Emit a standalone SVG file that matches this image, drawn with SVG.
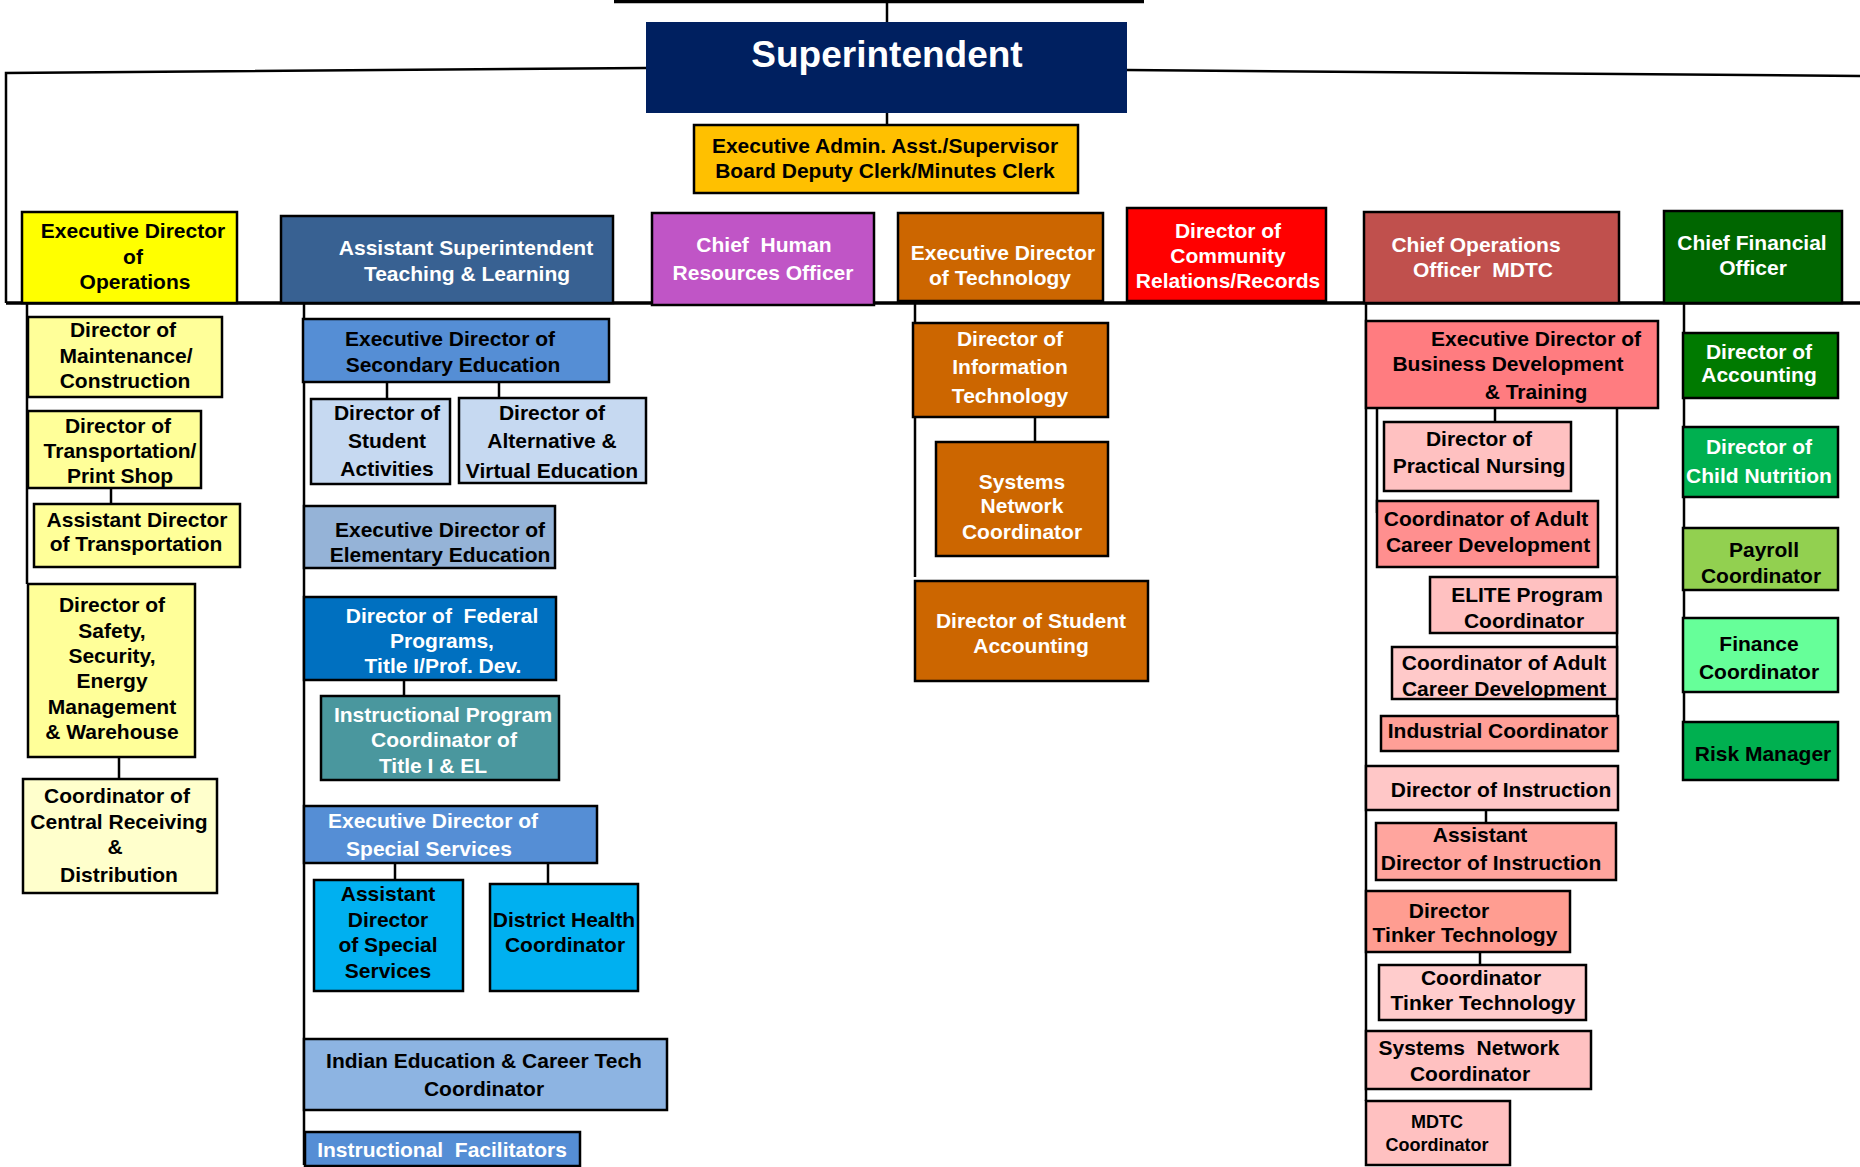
<svg xmlns="http://www.w3.org/2000/svg" width="1860" height="1167" viewBox="0 0 1860 1167">
<style>
.bx{stroke:#000;stroke-width:2.5}
.t{font-family:"Liberation Sans",Arial,sans-serif;font-weight:bold;font-size:21px;text-anchor:middle}
.w{fill:#fff}
.k{fill:#000}
.ln{stroke:#000;stroke-width:2.5;fill:none}
</style>
<rect width="1860" height="1167" fill="#fff"/>
<g id="connectors">
<line class="ln" x1="614" y1="1.5" x2="1144" y2="1.5" style="stroke-width:3.5"/>
<line class="ln" x1="887" y1="3" x2="887" y2="22"/>
<polyline class="ln" points="646,68 6,73 6,303"/>
<line class="ln" x1="1127" y1="70" x2="1860" y2="76"/>
<line class="ln" x1="6" y1="303" x2="1860" y2="303" style="stroke-width:3.5"/>
<line class="ln" x1="887" y1="113" x2="887" y2="125"/>
<line class="ln" x1="27" y1="303" x2="27" y2="584"/>
<line class="ln" x1="111" y1="488" x2="111" y2="504"/>
<line class="ln" x1="119" y1="757" x2="119" y2="779"/>
<line class="ln" x1="304" y1="303" x2="304" y2="1165"/>
<line class="ln" x1="387" y1="382" x2="387" y2="399"/>
<line class="ln" x1="499" y1="382" x2="499" y2="399"/>
<line class="ln" x1="404" y1="680" x2="404" y2="696"/>
<line class="ln" x1="395" y1="863" x2="395" y2="880"/>
<line class="ln" x1="548" y1="863" x2="548" y2="884"/>
<line class="ln" x1="915" y1="303" x2="915" y2="577"/>
<line class="ln" x1="1035" y1="417" x2="1035" y2="442"/>
<line class="ln" x1="1366" y1="303" x2="1366" y2="1101"/>
<line class="ln" x1="1377" y1="408" x2="1377" y2="513"/>
<line class="ln" x1="1617" y1="408" x2="1617" y2="750"/>
<line class="ln" x1="1495" y1="408" x2="1495" y2="422"/>
<line class="ln" x1="1486" y1="810" x2="1486" y2="823"/>
<line class="ln" x1="1480" y1="952" x2="1480" y2="965"/>
<line class="ln" x1="1684" y1="303" x2="1684" y2="722"/>
</g>

<g id="superintendent">
<rect x="646" y="22" width="481" height="91" fill="#002060"/>
<text class="t w" x="887" y="67" style="font-size:37px">Superintendent</text>
</g>
<g id="exec-admin">
<rect class="bx" x="694" y="125" width="384" height="68" fill="#FFC000"/>
<text class="t k" x="885" y="153">Executive Admin. Asst./Supervisor</text>
<text class="t k" x="885" y="178">Board Deputy Clerk/Minutes Clerk</text>
</g>

<g id="exec-ops">
<rect class="bx" x="22" y="212" width="215" height="91" fill="#FFFF00"/>
<text class="t k" x="133" y="238">Executive Director</text>
<text class="t k" x="133" y="264">of</text>
<text class="t k" x="135" y="289">Operations</text>
</g>
<g id="asst-supt">
<rect class="bx" x="281" y="216" width="332" height="87" fill="#386192"/>
<text class="t w" x="466" y="255">Assistant Superintendent</text>
<text class="t w" x="467" y="281">Teaching &amp; Learning</text>
</g>
<g id="chief-hr">
<rect class="bx" x="652" y="213" width="222" height="92" fill="#C055C6"/>
<text class="t w" x="764" y="252" xml:space="preserve">Chief  Human</text>
<text class="t w" x="763" y="280">Resources Officer</text>
</g>
<g id="exec-tech">
<rect class="bx" x="898" y="213" width="205" height="88" fill="#CC6600"/>
<text class="t w" x="1003" y="260">Executive Director</text>
<text class="t w" x="1000" y="285">of Technology</text>
</g>
<g id="dir-community">
<rect class="bx" x="1127" y="208" width="199" height="93" fill="#FF0000"/>
<text class="t w" x="1228" y="238">Director of</text>
<text class="t w" x="1228" y="263">Community</text>
<text class="t w" x="1228" y="288">Relations/Records</text>
</g>
<g id="coo">
<rect class="bx" x="1364" y="212" width="255" height="91" fill="#C0504D"/>
<text class="t w" x="1476" y="252">Chief Operations</text>
<text class="t w" x="1483" y="277" xml:space="preserve">Officer  MDTC</text>
</g>
<g id="cfo">
<rect class="bx" x="1664" y="211" width="178" height="92" fill="#006600"/>
<text class="t w" x="1752" y="250">Chief Financial</text>
<text class="t w" x="1753" y="275">Officer</text>
</g>

<g id="dir-maintenance">
<rect class="bx" x="28" y="317" width="194" height="80" fill="#FFFF99"/>
<text class="t k" x="123" y="337">Director of</text>
<text class="t k" x="126" y="363">Maintenance/</text>
<text class="t k" x="125" y="388">Construction</text>
</g>
<g id="dir-transportation">
<rect class="bx" x="28" y="411" width="173" height="77" fill="#FFFF99"/>
<text class="t k" x="118" y="433">Director of</text>
<text class="t k" x="120" y="458">Transportation/</text>
<text class="t k" x="120" y="483">Print Shop</text>
</g>
<g id="asst-dir-transportation">
<rect class="bx" x="34" y="504" width="206" height="63" fill="#FFFF99"/>
<text class="t k" x="137" y="527">Assistant Director</text>
<text class="t k" x="136" y="551">of Transportation</text>
</g>
<g id="dir-safety">
<rect class="bx" x="28" y="584" width="167" height="173" fill="#FFFF99"/>
<text class="t k" x="112" y="612">Director of</text>
<text class="t k" x="112" y="638">Safety,</text>
<text class="t k" x="112" y="663">Security,</text>
<text class="t k" x="112" y="688">Energy</text>
<text class="t k" x="112" y="714">Management</text>
<text class="t k" x="112" y="739">&amp; Warehouse</text>
</g>
<g id="coord-central-receiving">
<rect class="bx" x="23" y="779" width="194" height="114" fill="#FFFFCC"/>
<text class="t k" x="117" y="803">Coordinator of</text>
<text class="t k" x="119" y="829">Central Receiving</text>
<text class="t k" x="115" y="854">&amp;</text>
<text class="t k" x="119" y="882">Distribution</text>
</g>

<g id="exec-secondary">
<rect class="bx" x="303" y="319" width="306" height="63" fill="#558ED5"/>
<text class="t k" x="450" y="346">Executive Director of</text>
<text class="t k" x="453" y="372">Secondary Education</text>
</g>
<g id="dir-student-activities">
<rect class="bx" x="311" y="399" width="139" height="85" fill="#C6D9F1"/>
<text class="t k" x="387" y="420">Director of</text>
<text class="t k" x="387" y="448">Student</text>
<text class="t k" x="387" y="476">Activities</text>
</g>
<g id="dir-alternative">
<rect class="bx" x="459" y="398" width="187" height="85" fill="#C6D9F1"/>
<text class="t k" x="552" y="420">Director of</text>
<text class="t k" x="552" y="448">Alternative &amp;</text>
<text class="t k" x="552" y="478">Virtual Education</text>
</g>
<g id="exec-elementary">
<rect class="bx" x="304" y="506" width="251" height="62" fill="#95B3D7"/>
<text class="t k" x="440" y="537">Executive Director of</text>
<text class="t k" x="440" y="562">Elementary Education</text>
</g>
<g id="dir-federal">
<rect class="bx" x="304" y="597" width="252" height="83" fill="#0070C0"/>
<text class="t w" x="442" y="623" xml:space="preserve">Director of  Federal</text>
<text class="t w" x="442" y="648">Programs,</text>
<text class="t w" x="443" y="673">Title I/Prof. Dev.</text>
</g>
<g id="instr-program-coord">
<rect class="bx" x="321" y="696" width="238" height="84" fill="#4A979E"/>
<text class="t w" x="443" y="722">Instructional Program</text>
<text class="t w" x="444" y="747">Coordinator of</text>
<text class="t w" x="433" y="773">Title I &amp; EL</text>
</g>
<g id="exec-special">
<rect class="bx" x="304" y="806" width="293" height="57" fill="#558ED5"/>
<text class="t w" x="433" y="828">Executive Director of</text>
<text class="t w" x="429" y="856">Special Services</text>
</g>
<g id="asst-dir-special">
<rect class="bx" x="314" y="880" width="149" height="111" fill="#00B0F0"/>
<text class="t k" x="388" y="901">Assistant</text>
<text class="t k" x="388" y="927">Director</text>
<text class="t k" x="388" y="952">of Special</text>
<text class="t k" x="388" y="978">Services</text>
</g>
<g id="district-health">
<rect class="bx" x="490" y="884" width="148" height="107" fill="#00B0F0"/>
<text class="t k" x="564" y="927">District Health</text>
<text class="t k" x="565" y="952">Coordinator</text>
</g>
<g id="indian-education">
<rect class="bx" x="304" y="1039" width="363" height="71" fill="#8DB4E2"/>
<text class="t k" x="484" y="1068">Indian Education &amp; Career Tech</text>
<text class="t k" x="484" y="1096">Coordinator</text>
</g>
<g id="instr-facilitators">
<rect class="bx" x="305" y="1132" width="275" height="34" fill="#558ED5"/>
<text class="t w" x="442" y="1157" xml:space="preserve">Instructional  Facilitators</text>
</g>

<g id="dir-it">
<rect class="bx" x="913" y="323" width="195" height="94" fill="#CC6600"/>
<text class="t w" x="1010" y="346">Director of</text>
<text class="t w" x="1010" y="374">Information</text>
<text class="t w" x="1010" y="403">Technology</text>
</g>
<g id="systems-network-tech">
<rect class="bx" x="936" y="442" width="172" height="114" fill="#CC6600"/>
<text class="t w" x="1022" y="489">Systems</text>
<text class="t w" x="1022" y="513">Network</text>
<text class="t w" x="1022" y="539">Coordinator</text>
</g>
<g id="dir-student-accounting">
<rect class="bx" x="915" y="581" width="233" height="100" fill="#CC6600"/>
<text class="t w" x="1031" y="628">Director of Student</text>
<text class="t w" x="1031" y="653">Accounting</text>
</g>

<g id="exec-business-dev">
<rect class="bx" x="1366" y="321" width="292" height="87" fill="#FF7C80"/>
<text class="t k" x="1536" y="346">Executive Director of</text>
<text class="t k" x="1508" y="371">Business Development</text>
<text class="t k" x="1536" y="399">&amp; Training</text>
</g>
<g id="dir-practical-nursing">
<rect class="bx" x="1384" y="422" width="187" height="69" fill="#FFC1C1"/>
<text class="t k" x="1479" y="446">Director of</text>
<text class="t k" x="1479" y="473">Practical Nursing</text>
</g>
<g id="coord-adult-career-1">
<rect class="bx" x="1377" y="501" width="221" height="66" fill="#FF8F8F"/>
<text class="t k" x="1486" y="526">Coordinator of Adult</text>
<text class="t k" x="1488" y="552">Career Development</text>
</g>
<g id="elite-coord">
<rect class="bx" x="1430" y="577" width="187" height="56" fill="#FFC1C1"/>
<text class="t k" x="1527" y="602">ELITE Program</text>
<text class="t k" x="1524" y="628">Coordinator</text>
</g>
<g id="coord-adult-career-2">
<rect class="bx" x="1392" y="647" width="225" height="52" fill="#FFC9C9"/>
<text class="t k" x="1504" y="670">Coordinator of Adult</text>
<text class="t k" x="1504" y="696">Career Development</text>
</g>
<g id="industrial-coord">
<rect class="bx" x="1381" y="716" width="237" height="35" fill="#FF9F97"/>
<text class="t k" x="1498" y="738">Industrial Coordinator</text>
</g>
<g id="dir-instruction">
<rect class="bx" x="1366" y="766" width="252" height="44" fill="#FFC7C7"/>
<text class="t k" x="1501" y="797">Director of Instruction</text>
</g>
<g id="asst-dir-instruction">
<rect class="bx" x="1376" y="823" width="240" height="57" fill="#FFA59E"/>
<text class="t k" x="1480" y="842">Assistant</text>
<text class="t k" x="1491" y="870">Director of Instruction</text>
</g>
<g id="dir-tinker">
<rect class="bx" x="1366" y="891" width="204" height="61" fill="#FF9D91"/>
<text class="t k" x="1449" y="918">Director</text>
<text class="t k" x="1465" y="942">Tinker Technology</text>
</g>
<g id="coord-tinker">
<rect class="bx" x="1379" y="965" width="207" height="55" fill="#FFCCCC"/>
<text class="t k" x="1481" y="985">Coordinator</text>
<text class="t k" x="1483" y="1010">Tinker Technology</text>
</g>
<g id="systems-network-mdtc">
<rect class="bx" x="1366" y="1031" width="225" height="58" fill="#FFC1C1"/>
<text class="t k" x="1469" y="1055" xml:space="preserve">Systems  Network</text>
<text class="t k" x="1470" y="1081">Coordinator</text>
</g>
<g id="mdtc-coord">
<rect class="bx" x="1366" y="1101" width="144" height="64" fill="#FFC1C1"/>
<text class="t k" x="1437" y="1128" style="font-size:18px">MDTC</text>
<text class="t k" x="1437" y="1151" style="font-size:18px">Coordinator</text>
</g>

<g id="dir-accounting">
<rect class="bx" x="1683" y="333" width="155" height="65" fill="#007A00"/>
<text class="t w" x="1759" y="359">Director of</text>
<text class="t w" x="1759" y="382">Accounting</text>
</g>
<g id="dir-child-nutrition">
<rect class="bx" x="1683" y="427" width="155" height="70" fill="#00B050"/>
<text class="t w" x="1759" y="454">Director of</text>
<text class="t w" x="1759" y="483">Child Nutrition</text>
</g>
<g id="payroll-coord">
<rect class="bx" x="1683" y="528" width="155" height="62" fill="#92D050"/>
<text class="t k" x="1764" y="557">Payroll</text>
<text class="t k" x="1761" y="583">Coordinator</text>
</g>
<g id="finance-coord">
<rect class="bx" x="1683" y="618" width="155" height="74" fill="#66FF99"/>
<text class="t k" x="1759" y="651">Finance</text>
<text class="t k" x="1759" y="679">Coordinator</text>
</g>
<g id="risk-manager">
<rect class="bx" x="1683" y="722" width="155" height="58" fill="#00B050"/>
<text class="t k" x="1763" y="761">Risk Manager</text>
</g>
</svg>
